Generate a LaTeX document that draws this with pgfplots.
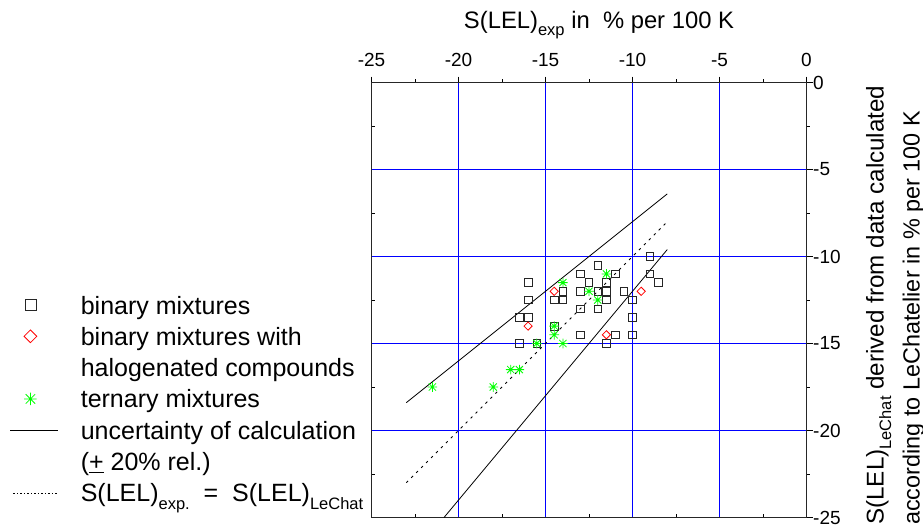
\documentclass[border=0pt]{standalone}
\usepackage{pgfplots}
\pgfplotsset{compat=1.18}
\usepackage{fontspec}
\setmainfont{Liberation Sans}

% lowered, smaller subscript in the text font
\newcommand\lowsub[1]{\raisebox{-0.3em}{\fontsize{16.5}{16.5}\selectfont #1}}

% eight-armed asterisk for the ternary mixtures
\pgfdeclareplotmark{star8}{%
  \pgfpathmoveto{\pgfqpoint{-\pgfplotmarksize}{0pt}}%
  \pgfpathlineto{\pgfqpoint{\pgfplotmarksize}{0pt}}%
  \pgfpathmoveto{\pgfqpoint{0pt}{-\pgfplotmarksize}}%
  \pgfpathlineto{\pgfqpoint{0pt}{\pgfplotmarksize}}%
  \pgfpathmoveto{\pgfqpoint{-.75\pgfplotmarksize}{-.75\pgfplotmarksize}}%
  \pgfpathlineto{\pgfqpoint{.75\pgfplotmarksize}{.75\pgfplotmarksize}}%
  \pgfpathmoveto{\pgfqpoint{-.75\pgfplotmarksize}{.75\pgfplotmarksize}}%
  \pgfpathlineto{\pgfqpoint{.75\pgfplotmarksize}{-.75\pgfplotmarksize}}%
  \pgfusepathqstroke}

\pgfplotsset{
  markimg/.style={legend image code/.code={%
    \draw[mark repeat=2,mark phase=2,##1,mark size=#1]
      plot coordinates {(0pt,3pt) (20pt,3pt) (40pt,3pt)};}},
  lineimg/.style={legend image code/.code={%
    \draw[##1] (0pt,3pt) -- (48pt,3pt);}},
  % common frame of both axes
  frame/.style={
    at={(371.5pt,-517.5pt)}, anchor=south west,
    scale only axis, width=435pt, height=435pt,
    xmin=-25, xmax=0, ymin=-25, ymax=0,
    xtick={-25,-20,...,0}, ytick={-25,-20,...,0},
    minor x tick num=1, minor y tick num=1,
    major tick length=6pt, minor tick length=3.3pt,
    every tick/.style={black, line width=0.8pt},
  },
}

\begin{document}
\begin{tikzpicture}
\path[use as bounding box] (0pt,0pt) rectangle (923pt,-531pt);

% inward ticks on the lower and left sides
\begin{axis}[
  frame,
  xtick pos=lower, ytick pos=left,
  xticklabels={}, yticklabels={},
  tick align=inside,
  axis line style={draw=none},
]
\end{axis}

\begin{axis}[
  frame,
  xticklabels={-25,-20,-15,-10,-5,0},
  yticklabels={-25,-20,-15,-10,-5,0},
  xtick pos=upper, ytick pos=right,
  xticklabel pos=upper, yticklabel pos=right,
  tick align=outside,
  axis line style={black!85, line width=1pt},
  xmajorgrids, ymajorgrids,
  every axis grid/.style={draw=blue, line width=1.2pt},
  xticklabel style={font=\fontsize{19}{20}\selectfont, inner sep=0pt, anchor=base, yshift=9.7pt},
  yticklabel style={font=\fontsize{19}{20}\selectfont, inner sep=0pt, anchor=west, xshift=0.5pt},
  every axis x label/.style={at={(axis description cs:0.523,1.1253)}, anchor=base,
    inner sep=0pt, font=\fontsize{23.8}{28}\selectfont},
  every axis y label/.style={at={(axis description cs:1.1368,-0.0172)}, anchor=north west,
    rotate=90, inner sep=0pt, align=left, font=\fontsize{23.8}{36}\selectfont},
  xlabel={S(LEL)\lowsub{exp} in\ \ \% per 100 K},
  ylabel={\fontsize{24.2}{36}\selectfont S(LEL)\lowsub{LeChat} derived from data calculated\\
    \fontsize{23.4}{36}\selectfont according to LeChatelier in \% per 100 K},
  legend cell align=left,
  legend style={
    at={(axis description cs:-0.8310,0.5092)}, anchor=north west,
    draw=none, fill=none, inner sep=0pt, outer sep=0pt,
    row sep=7.3pt, column sep=22pt,
    font=\fontsize{25}{30}\selectfont,
    nodes={inner sep=0pt, text height=18pt, text depth=6pt},
  },
  clip=true,
]

% binary mixtures
\addplot[only marks, mark=square, mark size=3.8pt, draw=black!85, line width=0.8pt, markimg=5.5pt]
coordinates {
  (-9,-10) (-12,-10.5) (-13,-11) (-11,-11) (-9,-11)
  (-16,-11.5) (-12.5,-11.5) (-11.5,-11.5) (-8.5,-11.5)
  (-14,-12) (-13,-12) (-12,-12) (-11.5,-12) (-10.5,-12)
  (-16,-12.5) (-14.5,-12.5) (-14,-12.5) (-11.5,-12.5) (-10,-12.5)
  (-13,-13) (-12,-13)
  (-16.5,-13.5) (-16,-13.5) (-10,-13.5)
  (-14.5,-14)
  (-13,-14.5) (-11,-14.5) (-10,-14.5)
  (-16.5,-15) (-15.5,-15) (-11.5,-15)
};
\addlegendentry{binary mixtures}

% binary mixtures with halogenated compounds
\addplot[only marks, mark=square, mark size=2.9pt, mark options={rotate=45}, draw=red, line width=0.8pt, markimg=4.5pt]
coordinates {
  (-14.5,-12) (-9.5,-12) (-16,-14) (-11.5,-14.5)
};
\addlegendentry{binary mixtures with}
\addlegendimage{empty legend}
\addlegendentry{halogenated compounds}

% ternary mixtures
\addplot[only marks, mark=star8, mark size=4.8pt, draw=green, line width=0.8pt, markimg=6.3pt]
coordinates {
  (-11.5,-11) (-14,-11.5) (-12.5,-12) (-12,-12.5)
  (-14.5,-14) (-14.5,-14.5) (-14,-15) (-15.5,-15)
  (-17,-16.5) (-16.5,-16.5) (-18,-17.5) (-21.5,-17.5)
};
\addlegendentry{ternary mixtures}

% +/- 20 % relative uncertainty band
\addplot[black, line width=0.8pt, lineimg] coordinates {(-23,-18.4) (-8,-6.4)};
\addlegendentry{uncertainty of calculation}
\addplot[black, line width=0.8pt, forget plot] coordinates {(-20.8333,-25) (-8,-9.6)};
\addlegendimage{empty legend}
\addlegendentry{(\underline{+} 20\% rel.)}

% identity line
\addplot[black, line width=0.8pt, dash pattern=on 2.5pt off 4.5pt,
  legend image code/.code={\draw[black, line width=0.6pt, dash pattern=on 1.5pt off 2pt] (3pt,3pt) -- (48pt,3pt);}]
  coordinates {(-23,-23) (-8,-8)};
\addlegendentry{S(LEL)\lowsub{exp.}\ \ =\ \ S(LEL)\lowsub{LeChat}}

\end{axis}
\end{tikzpicture}
\end{document}
